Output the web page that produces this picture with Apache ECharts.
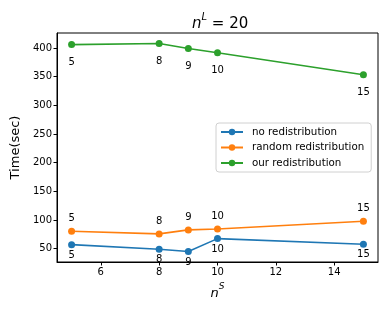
<!DOCTYPE html>
<html>
<head>
<meta charset="utf-8">
<script src="https://cdn.jsdelivr.net/npm/echarts@6/dist/echarts.min.js"></script>
<style>html,body{margin:0;padding:0;background:#fff}#c{width:390px;height:312px}</style>
</head>
<body>
<div id="c"></div>
<script>
var nS = [5, 8, 9, 10, 15];
var noRedist = [57, 49, 45, 67.5, 57.7];
var randomRedist = [80.4, 75.7, 82.7, 84.4, 97.9];
var ourRedist = [406, 408, 399.3, 391.8, 353.3];
var xTicks = [6, 8, 10, 12, 14];
var yTicks = [50, 100, 150, 200, 250, 300, 350, 400];
var seriesNames = ['no redistribution', 'random redistribution', 'our redistribution'];
var colors = ['#1f77b4', '#ff7f0e', '#2ca02c'];

var FONT = 'DejaVu Sans';
function pairs(ys) { return nS.map(function (x, i) { return [x, ys[i]]; }); }
function mk(name, ys, color, pos, dist) {
  return {
    name: name, type: 'line', data: pairs(ys), color: color,
    symbol: 'circle', symbolSize: 7,
    lineStyle: { width: 1.6, color: color },
    itemStyle: { color: color },
    label: { show: true, position: pos, distance: dist, color: '#000', fontFamily: FONT, fontSize: 10,
      formatter: function (p) { return String(p.value[0]); } },
    emphasis: { disabled: true }
  };
}
var chart = echarts.init(document.getElementById('c'), null, { renderer: 'canvas' });
chart.setOption({
  animation: false,
  backgroundColor: '#fff',
  textStyle: { fontFamily: FONT },
  title: {
    text: '{i|n}{s|L}{t| = 20}', left: 187, top: 7,
    textStyle: {
      fontWeight: 'normal',
      rich: {
        i: { fontFamily: FONT, fontStyle: 'italic', fontWeight: 'normal', fontSize: 15, color: '#000', lineHeight: 20, verticalAlign: 'bottom' },
        s: { fontFamily: FONT, fontStyle: 'italic', fontWeight: 'normal', fontSize: 10, color: '#000', lineHeight: 20, verticalAlign: 'top' },
        t: { fontFamily: FONT, fontWeight: 'normal', fontSize: 15, color: '#000', lineHeight: 20, verticalAlign: 'bottom' }
      }
    }
  },
  grid: { left: 57, right: 12, top: 33, bottom: 50, show: true, borderColor: '#000', borderWidth: 1 },
  legend: {
    orient: 'vertical', left: 216, top: 123,
    data: seriesNames,
    itemWidth: 22, itemHeight: 8, itemGap: 5.5,
    padding: [4, 7, 4, 4],
    borderColor: '#d0d0d0', borderWidth: 1, borderRadius: 3,
    backgroundColor: 'rgba(255,255,255,0.8)',
    textStyle: { fontFamily: FONT, fontSize: 10.3, color: '#000', padding: [0, 0, 0, 4] }
  },
  xAxis: {
    type: 'value', min: 4.5, max: 15.5,
    name: '{i|n}{s|S}', nameLocation: 'middle', nameGap: 14,
    nameTextStyle: {
      rich: {
        i: { fontFamily: FONT, fontStyle: 'italic', fontSize: 13, color: '#000', lineHeight: 18, verticalAlign: 'bottom' },
        s: { fontFamily: FONT, fontStyle: 'italic', fontSize: 9, color: '#000', lineHeight: 18, verticalAlign: 'top' }
      }
    },
    axisLine: { show: true, lineStyle: { color: '#000', width: 1 } },
    axisTick: { show: true, length: 3.5, customValues: xTicks, lineStyle: { color: '#000' } },
    axisLabel: { customValues: xTicks, color: '#000', fontSize: 10, fontFamily: FONT, margin: 5 },
    splitLine: { show: false }
  },
  yAxis: {
    type: 'value', min: 26.7, max: 426.2,
    name: 'Time(sec)', nameLocation: 'middle', nameGap: 34,
    nameTextStyle: { fontFamily: FONT, fontSize: 13, color: '#000' },
    axisLine: { show: true, lineStyle: { color: '#000', width: 1 } },
    axisTick: { show: true, length: 3.5, customValues: yTicks, lineStyle: { color: '#000' } },
    axisLabel: { customValues: yTicks, color: '#000', fontSize: 10, fontFamily: FONT, margin: 5 },
    splitLine: { show: false }
  },
  series: [
    mk(seriesNames[0], noRedist, colors[0], 'bottom', 2),
    mk(seriesNames[1], randomRedist, colors[1], 'top', 4),
    mk(seriesNames[2], ourRedist, colors[2], 'bottom', 9)
  ]
});
</script>
</body>
</html>
